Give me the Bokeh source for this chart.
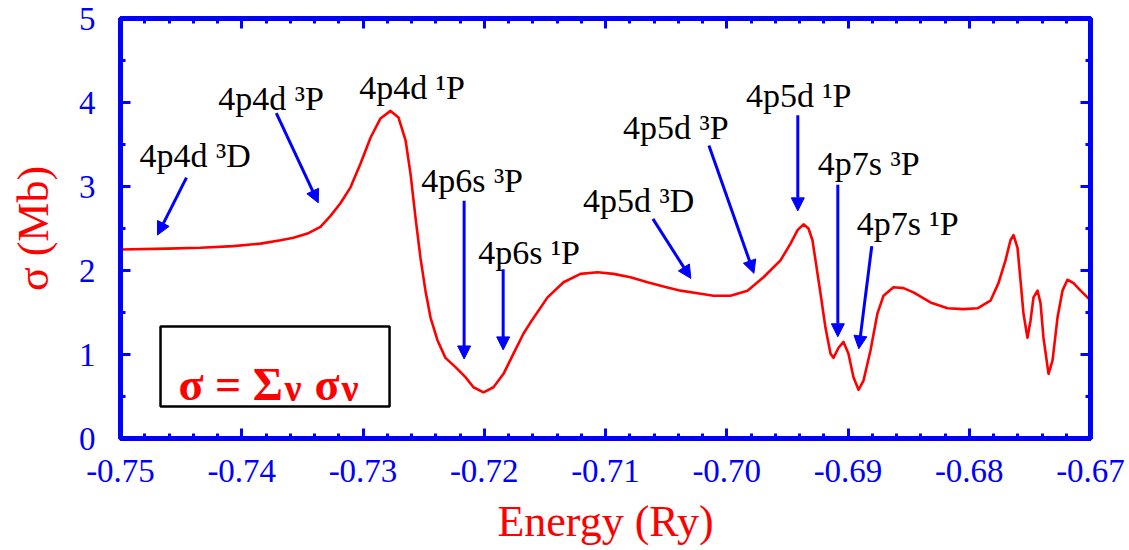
from bokeh.plotting import figure
from bokeh.models import (Range1d, LinearAxis, FixedTicker, PrintfTickFormatter,
                          CustomJSTickFormatter, Arrow, NormalHead, BoxAnnotation,
                          ColumnDataSource)
from bokeh.core.properties import value
from bokeh.embed import file_html
from bokeh.resources import INLINE

# ---- data ----
energy = [-0.75000, -0.74612, -0.74340, -0.74068, -0.73845, -0.73680, -0.73573, -0.73458,
          -0.73351, -0.73268, -0.73186, -0.73103, -0.73021, -0.72938, -0.72856, -0.72773,
          -0.72707, -0.72649, -0.72608, -0.72567, -0.72526, -0.72485, -0.72443, -0.72386,
          -0.72320, -0.72237, -0.72155, -0.72089, -0.72006, -0.71924, -0.71841, -0.71759,
          -0.71676, -0.71619, -0.71478, -0.71346, -0.71206, -0.71066, -0.70934, -0.70794,
          -0.70654, -0.70522, -0.70381, -0.70241, -0.70109, -0.69969, -0.69829, -0.69697,
          -0.69557, -0.69474, -0.69416, -0.69367, -0.69326, -0.69293, -0.69268, -0.69227,
          -0.69186, -0.69144, -0.69120, -0.69078, -0.69037, -0.68996, -0.68955, -0.68913,
          -0.68872, -0.68814, -0.68757, -0.68707, -0.68625, -0.68542, -0.68460, -0.68320,
          -0.68179, -0.68047, -0.67932, -0.67825, -0.67759, -0.67701, -0.67660, -0.67635,
          -0.67602, -0.67577, -0.67553, -0.67520, -0.67495, -0.67470, -0.67437, -0.67412,
          -0.67388, -0.67346, -0.67313, -0.67272, -0.67231, -0.67190, -0.67140, -0.67082,
          -0.67025, -0.67000]
sigma = [2.25, 2.26, 2.27, 2.29, 2.32, 2.36, 2.39, 2.44,
         2.52, 2.65, 2.80, 2.99, 3.27, 3.58, 3.81, 3.90,
         3.82, 3.55, 3.15, 2.63, 2.15, 1.76, 1.44, 1.17,
         0.96, 0.85, 0.73, 0.61, 0.55, 0.61, 0.77, 1.01,
         1.25, 1.38, 1.68, 1.86, 1.96, 1.98, 1.96, 1.92,
         1.86, 1.81, 1.76, 1.73, 1.70, 1.70, 1.76, 1.92,
         2.12, 2.32, 2.48, 2.55, 2.50, 2.36, 2.12, 1.73,
         1.32, 1.01, 0.96, 1.08, 1.15, 1.01, 0.73, 0.58,
         0.69, 1.05, 1.49, 1.70, 1.80, 1.79, 1.74, 1.62,
         1.55, 1.54, 1.55, 1.64, 1.85, 2.12, 2.36, 2.42,
         2.27, 1.88, 1.49, 1.20, 1.40, 1.68, 1.76, 1.61,
         1.20, 0.77, 0.93, 1.44, 1.76, 1.89, 1.85, 1.76,
         1.68, 1.64]

x_ticks = [-0.75, -0.74, -0.73, -0.72, -0.71, -0.70, -0.69, -0.68, -0.67]
y_ticks = [0, 1, 2, 3, 4, 5]

state_labels = ["4p4d ³D", "4p4d ³P", "4p4d ¹P", "4p6s ³P", "4p6s ¹P",
                "4p5d ³D", "4p5d ³P", "4p5d ¹P", "4p7s ³P", "4p7s ¹P"]
label_x = [-0.74843, -0.74193, -0.73031, -0.72520, -0.72050,
           -0.71185, -0.70856, -0.69842, -0.69249, -0.68928]
label_y = [3.369, 4.048, 4.179, 3.071, 2.214, 2.833, 3.702, 4.083, 3.274, 2.560]

arrow_x0 = [-0.74456, -0.73715, -0.72166, -0.71844, -0.70609, -0.70147, -0.69414, -0.69084, -0.68804]
arrow_y0 = [3.106, 3.873, 2.830, 2.014, 2.614, 3.489, 3.849, 3.022, 2.290]
arrow_x1 = [-0.74695, -0.73369, -0.72166, -0.71844, -0.70296, -0.69776, -0.69414, -0.69084, -0.68911]
arrow_y1 = [2.422, 2.806, 0.947, 1.055, 1.906, 1.966, 2.710, 1.211, 1.067]

legend_parts = ["σ = Σ", "ν", "σ", "ν"]
legend_x = [-0.74522, -0.73647, -0.73400, -0.73177]
legend_y = [0.643, 0.607, 0.643, 0.607]
legend_size = ["46px", "38px", "46px", "38px"]
legend_box = dict(left=-0.74670, right=-0.72781, top=1.333, bottom=0.381)

SERIF = "Liberation Serif"
BLUE = "#0000ff"
RED = "#ff0000"

p = figure(width=1129, height=550, output_backend="svg", toolbar_location=None,
           x_range=Range1d(-0.75, -0.67), y_range=Range1d(0, 5),
           min_border_left=120, min_border_right=39, min_border_top=18, min_border_bottom=112,
           x_axis_label="Energy (Ry)", y_axis_label="σ (Mb)")
p.grid.visible = False
p.outline_line_color = BLUE
p.outline_line_width = 5
p.background_fill_color = "white"

x_minor = [round(-0.75 + 0.002 * i, 3) for i in range(41)]
y_minor = [0.5 * i for i in range(11)]
xticker = FixedTicker(ticks=x_ticks, minor_ticks=x_minor)
yticker = FixedTicker(ticks=y_ticks, minor_ticks=y_minor)

def style_axis(ax):
    ax.axis_line_color = BLUE
    ax.axis_line_width = 5
    ax.major_tick_line_color = BLUE
    ax.minor_tick_line_color = BLUE
    ax.major_tick_line_width = 3
    ax.minor_tick_line_width = 3
    ax.major_tick_in = 10
    ax.major_tick_out = 0
    ax.minor_tick_in = 5
    ax.minor_tick_out = 0
    ax.major_label_text_font = SERIF
    ax.major_label_text_color = BLUE
    ax.major_label_text_font_size = "33px"

xa = p.xaxis[0]
xa.ticker = xticker
xa.formatter = PrintfTickFormatter(format="%.2f")
style_axis(xa)
xa.major_label_standoff = 21
xa.axis_label_text_font = SERIF
xa.axis_label_text_font_size = "44px"
xa.axis_label_text_font_style = "normal"
xa.axis_label_text_color = RED
xa.axis_label_standoff = 12

ya = p.yaxis[0]
ya.ticker = yticker
ya.formatter = PrintfTickFormatter(format="%d")
style_axis(ya)
ya.major_label_standoff = 25
ya.axis_label_text_font = SERIF
ya.axis_label_text_font_size = "44px"
ya.axis_label_text_font_style = "normal"
ya.axis_label_text_color = RED
ya.axis_label_standoff = 18

blank = CustomJSTickFormatter(code="return '';")
top = LinearAxis(ticker=xticker, formatter=blank)
style_axis(top)
top.major_label_text_font_size = "1px"
top.major_label_standoff = 0
p.add_layout(top, "above")
right = LinearAxis(ticker=yticker, formatter=blank)
style_axis(right)
right.major_label_text_font_size = "1px"
right.major_label_standoff = 0
p.add_layout(right, "right")

# curve
p.line(energy, sigma, line_color=RED, line_width=2.6, line_join="round")

# arrows
for xs, ys, xe, ye in zip(arrow_x0, arrow_y0, arrow_x1, arrow_y1):
    p.add_layout(Arrow(end=NormalHead(size=13, fill_color=BLUE, line_color=BLUE, line_width=1),
                       x_start=xs, y_start=ys, x_end=xe, y_end=ye,
                       line_color=BLUE, line_width=3))

# state labels
src = ColumnDataSource(dict(x=label_x, y=label_y, t=state_labels))
p.text(x="x", y="y", text="t", source=src, text_font=value(SERIF), text_font_size="34px",
       text_color="black", text_baseline="alphabetic", text_align="left")

# legend box
p.add_layout(BoxAnnotation(fill_color=None, fill_alpha=0, line_color="black", line_alpha=1,
                           line_width=2.5, **legend_box))
lsrc = ColumnDataSource(dict(x=legend_x, y=legend_y, t=legend_parts, s=legend_size))
p.text(x="x", y="y", text="t", source=lsrc, text_font=value(SERIF), text_font_size="s",
       text_font_style="bold", text_color=RED, text_baseline="alphabetic", text_align="left")

open("out.html", "w").write(file_html(p, INLINE))
